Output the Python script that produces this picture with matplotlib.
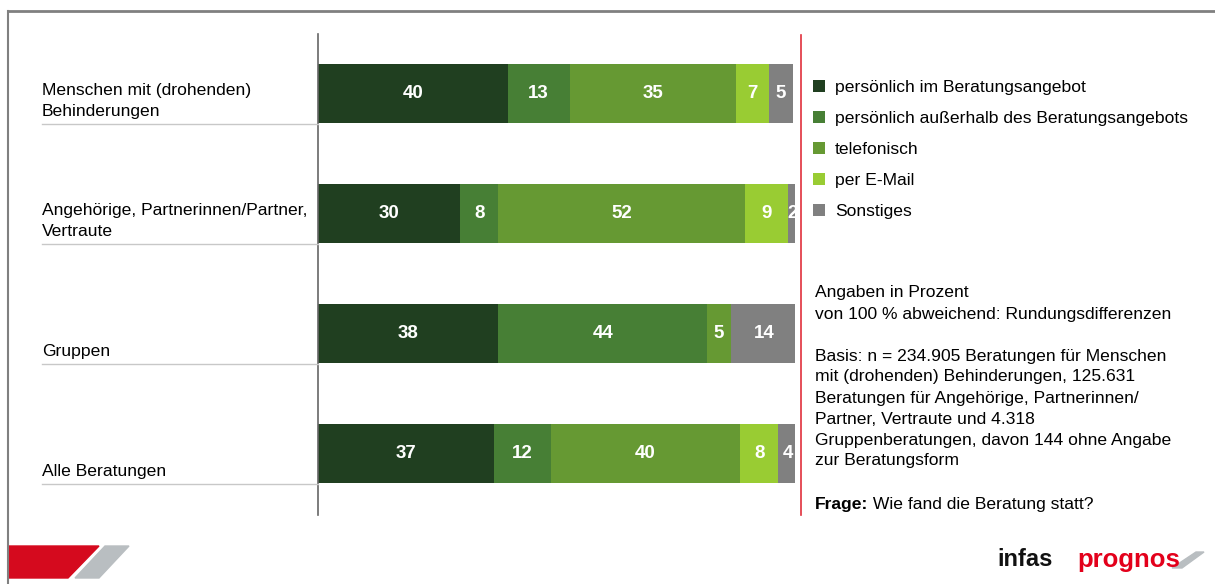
import numpy as np
import matplotlib.pyplot as plt
from matplotlib.patches import Polygon

plt.rcParams['font.family'] = ['Liberation Sans', 'DejaVu Sans']

W, H = 1215, 584

categories = ["Menschen mit (drohenden)\nBehinderungen",
              "Angehörige, Partnerinnen/Partner,\nVertraute",
              "Gruppen",
              "Alle Beratungen"]
series = ["persönlich im Beratungsangebot",
          "persönlich außerhalb des Beratungsangebots",
          "telefonisch",
          "per E-Mail",
          "Sonstiges"]
persoenlich_im = [40, 30, 38, 37]
persoenlich_ausserhalb = [13, 8, 44, 12]
telefonisch = [35, 52, 5, 40]
email = [7, 9, 0, 8]
sonstiges = [5, 2, 14, 4]
colors = ["#203f20", "#477f35", "#669933", "#99cc33", "#808080"]

notes = ["Angaben in Prozent",
         "von 100 % abweichend: Rundungsdifferenzen",
         "",
         "Basis: n = 234.905 Beratungen für Menschen",
         "mit (drohenden) Behinderungen, 125.631",
         "Beratungen für Angehörige, Partnerinnen/",
         "Partner, Vertraute und 4.318",
         "Gruppenberatungen, davon 144 ohne Angabe",
         "zur Beratungsform"]

FS = 12.6


def fx(px):
    return px / W


def fy(py):
    return 1 - py / H


fig = plt.figure(figsize=(W / 100, H / 100), dpi=100)
ax = fig.add_axes([fx(318), fy(515), fx(795) - fx(318), fy(34) - fy(515)])

values = [persoenlich_im, persoenlich_ausserhalb, telefonisch, email, sonstiges]
ypos = np.arange(len(categories))
left = np.zeros(len(categories))
handles = []
for vals, col, name in zip(values, colors, series):
    vals = np.array(vals, dtype=float)
    b = ax.barh(ypos, vals, left=left, height=0.49, color=col, label=name)
    handles.append(b)
    for y, l, v in zip(ypos, left, vals):
        if v > 0:
            ax.text(l + v / 2, y, f"{int(v)}", ha="center", va="center",
                    color="white", fontsize=13.5, fontweight="bold")
    left += vals

# rows add up to 100 or 101 (rounding)
ax.set_xlim(0, 100.5)
ax.set_ylim((515 - 93.5) / 120, (34 - 93.5) / 120)
ax.set_xticks([])
ax.set_yticks([])
for s in ["top", "right", "bottom"]:
    ax.spines[s].set_visible(False)
ax.spines["left"].set_color("#666666")
ax.spines["left"].set_linewidth(1.2)

# category labels and separators left of the bars
for i, cat in enumerate(categories):
    ysep = 124 + 120 * i
    fig.add_artist(plt.Line2D([fx(42), fx(318)], [fy(ysep), fy(ysep)],
                              color="#c8c8c8", linewidth=1))
    fig.text(fx(42), fy(ysep - 5), cat, ha="left", va="bottom",
             fontsize=FS, linespacing=1.5)

# red divider
fig.add_artist(plt.Line2D([fx(801), fx(801)], [fy(35), fy(515)],
                          color="#e0303c", linewidth=1.2))

# slide frame
fig.add_artist(plt.Line2D([fx(8), fx(1215)], [fy(10.5), fy(10.5)],
                          color="#808080", linewidth=2))
fig.add_artist(plt.Line2D([fx(8), fx(8)], [fy(10.5), fy(584)],
                          color="#808080", linewidth=1.5))

fig.legend(handles=handles, loc="upper left",
           bbox_to_anchor=(fx(813), fy(80)), frameon=False,
           fontsize=FS, handlelength=0.7, handleheight=0.7,
           handletextpad=0.55, labelspacing=0.9, borderpad=0,
           borderaxespad=0)

for k, line in enumerate(notes):
    fig.text(fx(815), fy(293 + 21 * k), line, ha="left", va="center",
             fontsize=FS)
t = fig.text(fx(815), fy(504), "Frage:", ha="left", va="center",
             fontsize=FS, fontweight="bold")
fig.add_artist(plt.Annotation(" Wie fand die Beratung statt?", xy=(1, 0.5),
                              xycoords=t, ha="left", va="center",
                              fontsize=FS))

# logos in the footer
fig.add_artist(Polygon([(fx(8), fy(546)), (fx(99), fy(546)),
                        (fx(68), fy(578)), (fx(8), fy(578))],
                       closed=True, color="#d50a1e", transform=fig.transFigure))
fig.add_artist(Polygon([(fx(105), fy(546)), (fx(129), fy(546)),
                        (fx(99), fy(578)), (fx(75), fy(578))],
                       closed=True, color="#b9bec1", transform=fig.transFigure))
fig.text(fx(997), fy(559), "infas", ha="left", va="center",
         fontsize=17, fontweight="bold", color="#111111",
         family=["Liberation Sans Narrow", "Liberation Sans"])
fig.text(fx(1077), fy(560), "prognos", ha="left", va="center",
         fontsize=18.5, fontweight="bold", color="#e3001b")
fig.add_artist(Polygon([(fx(1172), fy(568)), (fx(1196), fy(552)),
                        (fx(1204), fy(552)), (fx(1182), fy(568))],
                       closed=True, color="#b9bec1", transform=fig.transFigure))

fig.savefig("out.png", dpi=100)
